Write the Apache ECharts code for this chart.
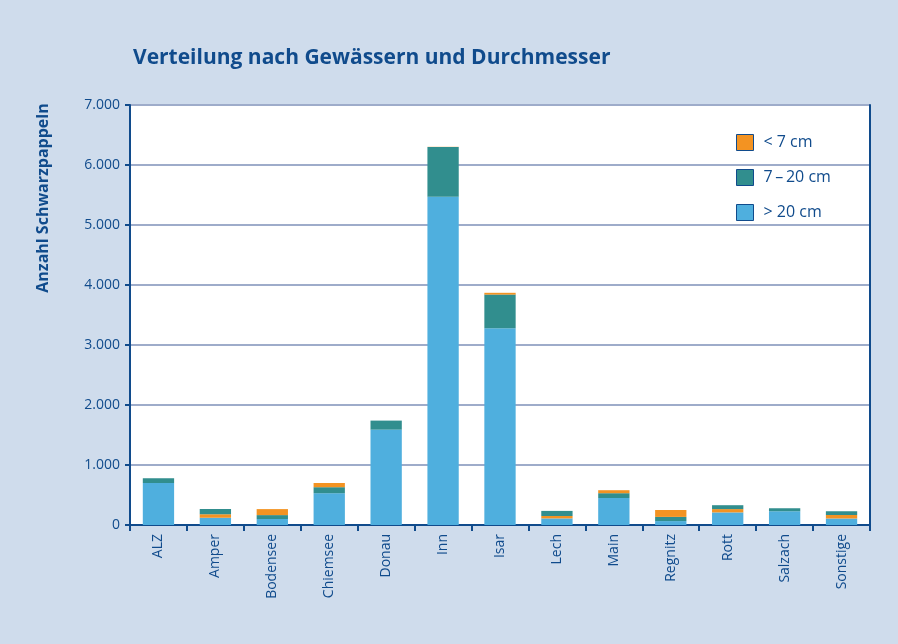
<!DOCTYPE html>
<html>
<head>
<meta charset="utf-8">
<script src="https://cdn.jsdelivr.net/npm/echarts@6/dist/echarts.min.js"></script>
<style>
html,body{margin:0;padding:0;background:#cfdcec;}
#c{width:898px;height:644px;}
</style>
</head>
<body>
<div id="c"></div>
<script>
const categories = ['ALZ','Amper','Bodensee','Chiemsee','Donau','Inn','Isar','Lech','Main','Regnitz','Rott','Salzach','Sonstige'];
const over20 = [700,120,100,530,1590,5470,3280,110,450,65,210,230,110];
const from7to20 = [80,85,65,100,150,830,560,85,80,70,65,50,65];
const under7 = [0,60,100,70,0,3,30,40,50,115,55,0,55];
// categories where the "< 7 cm" segment sits below the "7–20 cm" segment
const under7BelowMid = ['Amper','Lech','Rott','Sonstige'];
const yTicks = [0,1000,2000,3000,4000,5000,6000,7000];

const DARK = '#104b8c';
const names = ['< 7 cm','7\u2009\u2013\u200920 cm','> 20 cm'];
const colors = {orange:'#f39322', teal:'#318e8e', blue:'#4fafde'};

const lowOrange = under7.map((v,i)=> (under7BelowMid.includes(categories[i]) && v) ? v : null);
const topOrange = under7.map((v,i)=> (!under7BelowMid.includes(categories[i]) && v) ? v : null);

const fmt = v => v === 0 ? '0' : String(v).replace(/\B(?=(\d{3})+(?!\d))/g,'.');

const chart = echarts.init(document.getElementById('c'));
chart.setOption({
  backgroundColor:'#cfdcec',
  animation:false,
  textStyle:{fontFamily:'Open Sans'},
  title:{
    text:'Verteilung nach Gewässern und Durchmesser',
    left:128, top:43,
    textStyle:{fontFamily:'Open Sans',fontSize:21,fontWeight:'bold',color:DARK}
  },
  graphic:[{
    type:'text', x:43, y:198, rotation:Math.PI/2,
    style:{text:'Anzahl Schwarzpappeln', fill:DARK, font:'bold 16px "Open Sans"', textAlign:'center', textVerticalAlign:'middle'}
  }],
  legend:{
    orient:'vertical', left:736, top:134, itemGap:18, padding:0,
    itemWidth:17, itemHeight:16, icon:'rect',
    data:names,
    itemStyle:{borderColor:DARK,borderWidth:1},
    textStyle:{fontFamily:'Open Sans',fontSize:16,color:DARK,padding:[0,0,0,5]}
  },
  grid:{left:130,right:28,top:105,bottom:119,show:true,backgroundColor:'#ffffff',borderWidth:0},
  xAxis:{
    type:'category', data:categories,
    axisLine:{lineStyle:{color:DARK,width:2}},
    axisTick:{show:true,length:6,lineStyle:{color:DARK,width:2}},
    axisLabel:{rotate:90,fontSize:14,color:DARK,fontFamily:'Open Sans',margin:9}
  },
  yAxis:[{
    type:'value', min:0, max:7000, interval:1000,
    axisLine:{show:true,lineStyle:{color:DARK,width:2}},
    axisTick:{show:true,length:5,lineStyle:{color:DARK,width:2}},
    axisLabel:{fontSize:14,color:DARK,fontFamily:'Open Sans',margin:10,formatter:v=>yTicks.includes(v)?fmt(v):''},
    splitLine:{lineStyle:{color:'#9eacca',width:2}}
  },{
    type:'value', min:0, max:7000, interval:1000, position:'right',
    axisLine:{show:true,lineStyle:{color:DARK,width:2}},
    axisTick:{show:false}, axisLabel:{show:false}, splitLine:{show:false}
  }],
  series:[
    {name:names[2],type:'bar',stack:'a',barWidth:'55%',data:over20,itemStyle:{color:colors.blue}},
    {name:names[0],type:'bar',stack:'a',data:lowOrange,itemStyle:{color:colors.orange}},
    {name:names[1],type:'bar',stack:'a',data:from7to20,itemStyle:{color:colors.teal}},
    {name:names[0],type:'bar',stack:'a',data:topOrange,itemStyle:{color:colors.orange}}
  ]
});
</script>
</body>
</html>
